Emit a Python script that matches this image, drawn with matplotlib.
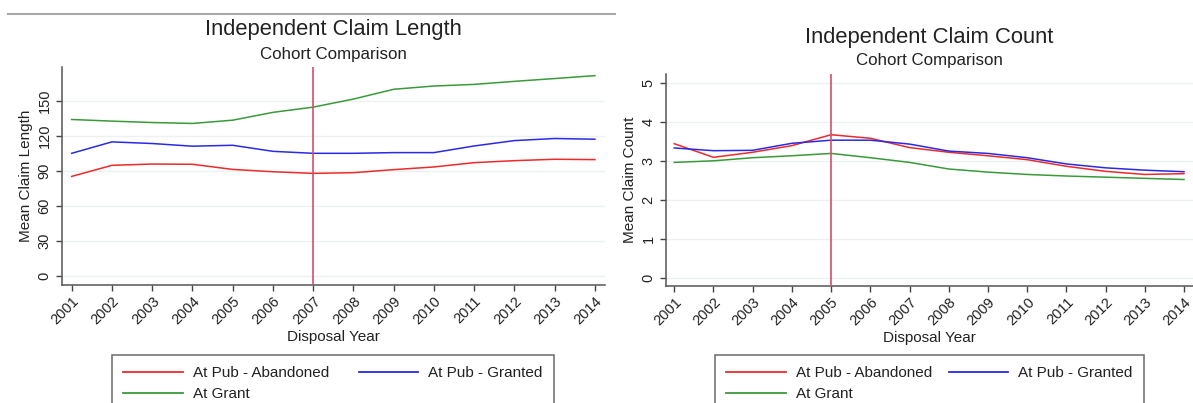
import numpy as np
import matplotlib
matplotlib.use("Agg")
import matplotlib.pyplot as plt
from matplotlib.lines import Line2D

plt.rcParams.update({
    "font.family": ["Liberation Sans", "DejaVu Sans"],
    "text.color": "#222222",
    "axes.labelcolor": "#222222",
    "xtick.color": "#444444",
    "ytick.color": "#444444",
    "xtick.labelcolor": "#222222",
    "ytick.labelcolor": "#222222",
})

# ---------------------------------------------------------------------
# DATA
# ---------------------------------------------------------------------
years = list(range(2001, 2015))

length_abandoned = [85.1, 94.6, 95.7, 95.5, 91.1, 89.1, 87.7, 88.3, 90.9, 93.2, 96.9, 98.6, 99.8, 99.5]
length_granted   = [104.9, 114.7, 113.3, 111.0, 111.8, 106.6, 104.9, 104.9, 105.5, 105.5, 111.2, 115.8, 117.6, 117.0]
length_grant     = [133.9, 132.5, 131.3, 130.5, 133.3, 140.0, 144.5, 151.4, 159.8, 162.6, 164.0, 166.6, 169.0, 171.5]

count_abandoned = [3.45, 3.10, 3.23, 3.40, 3.68, 3.59, 3.35, 3.23, 3.14, 3.04, 2.87, 2.74, 2.66, 2.68]
count_granted   = [3.34, 3.27, 3.28, 3.46, 3.54, 3.54, 3.44, 3.26, 3.20, 3.09, 2.93, 2.83, 2.77, 2.73]
count_grant     = [2.97, 3.01, 3.09, 3.14, 3.20, 3.09, 2.97, 2.80, 2.72, 2.66, 2.62, 2.59, 2.56, 2.53]

length_ticks = [0, 30, 60, 90, 120, 150]
count_ticks = [0, 1, 2, 3, 4, 5]

SERIES_LABELS = ["At Pub - Abandoned", "At Pub - Granted", "At Grant"]
COLORS = ["#ee2a2a", "#2a2ae6", "#3a9a3a"]
VLINE_COLOR = "#d2506e"
GRID_COLOR = "#edf1f1"
SPINE_COLOR = "#555555"

W, H = 1193, 403


def fx(px):
    return px / W


def fy(py):
    return 1 - py / H


# ---------------------------------------------------------------------
def draw_panel(fig, rect, series, ticks, ylim, xlim, cut_year,
               title, ylabel, title_y, legend_rect):
    ax = fig.add_axes(rect)
    for vals, c in zip(series, COLORS):
        ax.plot(years, vals, color=c, lw=1.1, zorder=3)

    ax.axvline(cut_year, color=VLINE_COLOR, lw=1.2, zorder=4)

    ax.set_xlim(*xlim)
    ax.set_ylim(*ylim)
    ax.set_yticks(ticks)
    ax.set_xticks(years)
    ax.set_xticklabels([str(y) for y in years], rotation=45, ha="right",
                       rotation_mode="anchor", fontsize=10.5)
    ax.set_yticklabels([str(t) for t in ticks], rotation=90, va="center",
                       fontsize=10.5)
    ax.tick_params(axis="both", length=4.5, width=1.0, pad=3)
    ax.tick_params(axis="x", pad=2)

    for t in ticks:
        ax.axhline(t, color=GRID_COLOR, lw=1.0, zorder=1)

    for s in ["top", "right"]:
        ax.spines[s].set_visible(False)
    for s in ["left", "bottom"]:
        ax.spines[s].set_color(SPINE_COLOR)
        ax.spines[s].set_linewidth(1.1)

    ax.set_xlabel("Disposal Year", fontsize=11, labelpad=2)
    ax.set_ylabel(ylabel, fontsize=11, labelpad=3)

    # titles
    cx = rect[0] + rect[2] / 2
    fig.text(cx, fy(title_y), title, ha="center", va="center", fontsize=15.8)
    fig.text(cx, fy(title_y + 24), "Cohort Comparison", ha="center",
             va="center", fontsize=12.2)

    # legend: row 1 = abandoned, granted; row 2 = at grant
    handles = [Line2D([0], [0], color=COLORS[0], lw=1.3),
               Line2D([0], [0], color=COLORS[2], lw=1.3),
               Line2D([0], [0], color=COLORS[1], lw=1.3)]
    labels = [SERIES_LABELS[0], SERIES_LABELS[2], SERIES_LABELS[1]]
    x0, y0, x1 = legend_rect
    leg = fig.legend(handles, labels, ncol=2, loc="upper left",
                     bbox_to_anchor=(fx(x0), fy(y0) - 0.3, fx(x1) - fx(x0), 0.3),
                     mode="expand", fontsize=11, frameon=True, fancybox=False,
                     handlelength=3.9, handletextpad=0.65, borderpad=0.75,
                     labelspacing=0.45, borderaxespad=0.0, columnspacing=2.0)
    leg.get_frame().set_edgecolor("#444444")
    leg.get_frame().set_linewidth(1.1)
    return ax


def main():
    fig = plt.figure(figsize=(W / 100, H / 100), dpi=100)

    # thin grey rule across the top of the left panel
    fig.add_artist(Line2D([fx(8), fx(615)], [fy(13.5), fy(13.5)],
                          color="#a8a8a8", lw=1.5))

    draw_panel(fig,
               [fx(62), fy(285), fx(605) - fx(62), fy(67) - fy(285)],
               [length_abandoned, length_granted, length_grant],
               length_ticks, (-8.0, 178.9), (2000.76, 2014.25), 2007,
               "Independent Claim Length", "Mean Claim Length", 30,
               (112, 355, 554))

    draw_panel(fig,
               [fx(666), fy(286), fx(1193) - fx(666), fy(74) - fy(286)],
               [count_abandoned, count_granted, count_grant],
               count_ticks, (-0.205, 5.24), (2000.79, 2014.23), 2005,
               "Independent Claim Count", "Mean Claim Count", 37,
               (715, 355, 1144))

    fig.savefig("out.png", dpi=100)


if __name__ == "__main__":
    main()
